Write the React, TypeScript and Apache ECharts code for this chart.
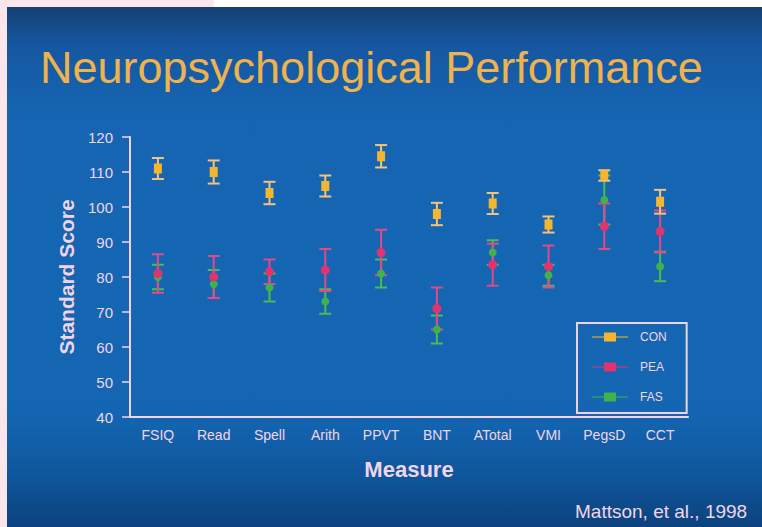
import React, { useEffect, useRef } from "react";
import * as echarts from "echarts";

const categories = ["FSIQ", "Read", "Spell", "Arith", "PPVT", "BNT", "ATotal", "VMI", "PegsD", "CCT"];
const conMean = [111, 110, 104, 106, 114.5, 98, 101, 95, 109, 101.5];
const conErr = [3, 3.3, 3.2, 3, 3.2, 3.2, 3, 2.3, 1.5, 3.4];
const peaMean = [81, 80, 81.5, 82, 87, 71, 83.5, 83, 94.5, 93];
const peaErr = [5.5, 6, 3.5, 6, 6.5, 6, 6, 6, 6.5, 6];
const fasMean = [80, 78, 77, 73, 81, 65, 87, 80.5, 102, 83];
const fasErr = [3.5, 4, 4, 3.5, 4, 4, 3.5, 3, 7, 4.2];
const yTicks = [40, 50, 60, 70, 80, 90, 100, 110, 120];

const TEXT = "#f2d4ea";
const CON_C = "#f6b52e";
const PEA_C = "#e2336e";
const FAS_C = "#3fb24a";
const CON_BAR = "#f4c27a";
const PEA_BAR = "#e54888";
const FAS_BAR = "#4cbc50";
const FONT = '"Liberation Sans", Arial, sans-serif';

function errData(mean: number[], err: number[]) {
  return mean.map((m, i) => [i, m - err[i], m + err[i]]);
}

function errSeries(name: string, mean: number[], err: number[], color: string) {
  return {
    type: "custom",
    name: name + " SEM",
    silent: true,
    z: 2,
    data: errData(mean, err),
    encode: { x: 0, y: [1, 2] },
    renderItem: (params: any, api: any) => {
      const x = api.value(0);
      const lo = api.coord([x, api.value(1)]);
      const hi = api.coord([x, api.value(2)]);
      const hw = 6;
      const st = { stroke: color, lineWidth: 2 };
      return {
        type: "group",
        children: [
          { type: "line", shape: { x1: lo[0], y1: lo[1], x2: hi[0], y2: hi[1] }, style: st },
          { type: "line", shape: { x1: lo[0] - hw, y1: lo[1], x2: lo[0] + hw, y2: lo[1] }, style: st },
          { type: "line", shape: { x1: hi[0] - hw, y1: hi[1], x2: hi[0] + hw, y2: hi[1] }, style: st },
        ],
      };
    },
  };
}

const legendIcon = "path://M0,4 L12,4 L12,0 L24,0 L24,4 L36,4 L36,5 L24,5 L24,9 L12,9 L12,5 L0,5 Z";

export default function App() {
  const ref = useRef<HTMLDivElement>(null);
  useEffect(() => {
    if (!ref.current) return;
    const chart = echarts.init(ref.current, undefined, { renderer: "svg" });
    chart.setOption({
      animation: false,
      backgroundColor: "#fae6ec",
      graphic: [
        { type: "rect", z: -10, shape: { x: 214, y: 0, width: 548, height: 7 }, style: { fill: "#ffffff" } },
        {
          type: "rect",
          z: -10,
          shape: { x: 7, y: 7, width: 755, height: 520 },
          style: {
            fill: new echarts.graphic.LinearGradient(0, 0, 0, 1, [
              { offset: 0, color: "#163f72" },
              { offset: 0.07, color: "#1656a0" },
              { offset: 0.2, color: "#1565b2" },
              { offset: 0.78, color: "#1466b3" },
              { offset: 0.9, color: "#0f569c" },
              { offset: 1, color: "#0c427e" },
            ]),
          },
        },
        {
          type: "text",
          left: 40,
          top: 45,
          style: {
            text: "Neuropsychological Performance",
            fill: "#efb24c",
            font: "45px " + FONT,
          },
        },
        {
          type: "text",
          left: 575,
          top: 502,
          style: {
            text: "Mattson, et al., 1998",
            fill: TEXT,
            font: "19px " + FONT,
          },
        },
      ],
      grid: { left: 130, right: 74, top: 137, bottom: 110 },
      legend: {
        orient: "vertical",
        left: 577,
        top: 323,
        padding: [8, 20, 10, 15],
        itemGap: 18,
        itemWidth: 36,
        itemHeight: 9,
        borderColor: "#f0d0e6",
        borderWidth: 2,
        data: [
          { name: "CON", icon: legendIcon },
          { name: "PEA", icon: legendIcon },
          { name: "FAS", icon: legendIcon },
        ],
        textStyle: { color: TEXT, fontSize: 12, fontFamily: FONT, padding: [0, 0, 0, 7] },
      },
      xAxis: {
        type: "category",
        data: categories,
        boundaryGap: true,
        name: "Measure",
        nameLocation: "middle",
        nameGap: 41,
        nameTextStyle: { color: TEXT, fontSize: 22, fontWeight: "bold", fontFamily: FONT },
        axisLine: { lineStyle: { color: TEXT, width: 2 } },
        axisTick: { alignWithLabel: true, length: 6, lineStyle: { color: TEXT, width: 1.5 } },
        axisLabel: { color: TEXT, fontSize: 14, margin: 11, interval: 0, fontFamily: FONT },
        splitLine: { show: false },
      },
      yAxis: {
        type: "value",
        min: yTicks[0],
        max: yTicks[yTicks.length - 1],
        interval: 10,
        name: "Standard Score",
        nameLocation: "middle",
        nameRotate: 90,
        nameGap: 52,
        nameTextStyle: { color: TEXT, fontSize: 21, fontWeight: "bold", fontFamily: FONT },
        axisLine: { show: true, lineStyle: { color: TEXT, width: 2 } },
        axisTick: { show: true, length: 8, lineStyle: { color: TEXT, width: 1.5 } },
        axisLabel: { color: TEXT, fontSize: 15, margin: 17, fontFamily: FONT },
        splitLine: { show: false },
      },
      series: [
        errSeries("FAS", fasMean, fasErr, FAS_BAR),
        errSeries("PEA", peaMean, peaErr, PEA_BAR),
        errSeries("CON", conMean, conErr, CON_BAR),
        {
          type: "scatter",
          name: "FAS",
          z: 3,
          symbol: "circle",
          symbolSize: 8,
          itemStyle: { color: FAS_C, opacity: 1 },
          data: fasMean.map((v, i) => [i, v]),
        },
        {
          type: "scatter",
          name: "PEA",
          z: 4,
          symbol: "circle",
          symbolSize: 9,
          itemStyle: { color: PEA_C, opacity: 1 },
          data: peaMean.map((v, i) => [i, v]),
        },
        {
          type: "scatter",
          name: "CON",
          z: 5,
          symbol: "rect",
          symbolSize: [8, 10],
          itemStyle: { color: CON_C, opacity: 1 },
          data: conMean.map((v, i) => [i, v]),
        },
      ],
    });
    return () => chart.dispose();
  }, []);
  return <div ref={ref} style={{ position: "absolute", left: 0, top: 0, width: 762, height: 527 }} />;
}
